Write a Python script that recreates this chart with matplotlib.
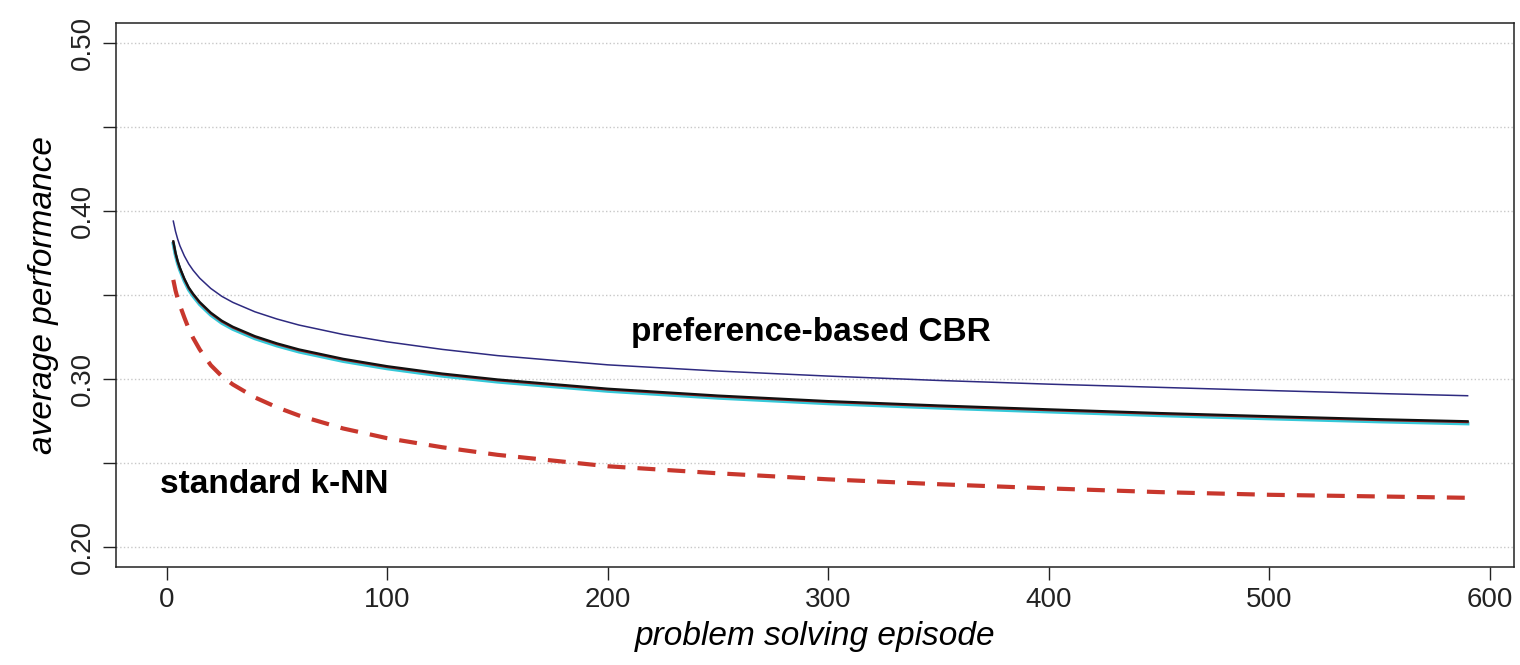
import numpy as np
import matplotlib.pyplot as plt

plt.rcParams['font.family'] = ['Liberation Sans', 'DejaVu Sans']

# episodes at which the curves were read
episodes = [3, 4, 5, 6, 8, 10, 12, 15, 20, 25, 30, 40, 50, 60, 80, 100, 125, 150,
            200, 250, 300, 350, 400, 450, 500, 550, 590]

# preference-based CBR variants
pref_top = [0.394, 0.3879, 0.3832, 0.3793, 0.3733, 0.3685, 0.3647, 0.3600, 0.3539,
            0.3492, 0.3456, 0.3400, 0.3357, 0.3321, 0.3265, 0.3221, 0.3176, 0.3139,
            0.3084, 0.3047, 0.3017, 0.2991, 0.2969, 0.2950, 0.2931, 0.2913, 0.2900]
pref_black = [0.382, 0.3752, 0.3702, 0.3663, 0.3598, 0.3545, 0.3507, 0.3458, 0.3395,
              0.3347, 0.3311, 0.3255, 0.3212, 0.3176, 0.3120, 0.3076, 0.3032, 0.2997,
              0.2942, 0.2901, 0.2868, 0.2842, 0.2819, 0.2797, 0.2778, 0.2760, 0.2748]
pref_red = [0.3815, 0.3747, 0.3697, 0.3658, 0.3593, 0.3540, 0.3502, 0.3453, 0.3390,
            0.3342, 0.3306, 0.3250, 0.3207, 0.3171, 0.3115, 0.3071, 0.3027, 0.2992,
            0.2937, 0.2896, 0.2863, 0.2837, 0.2814, 0.2792, 0.2773, 0.2755, 0.2743]
pref_cyan = [0.3806, 0.3738, 0.3688, 0.3649, 0.3584, 0.3531, 0.3493, 0.3444, 0.3381,
             0.3333, 0.3297, 0.3241, 0.3198, 0.3162, 0.3106, 0.3062, 0.3018, 0.2983,
             0.2928, 0.2887, 0.2854, 0.2828, 0.2805, 0.2783, 0.2764, 0.2746, 0.2734]

# standard k-NN
knn = [0.359, 0.3527, 0.3478, 0.3438, 0.3366, 0.3299, 0.3244, 0.3175, 0.3082,
       0.3016, 0.2967, 0.2890, 0.2831, 0.2782, 0.2705, 0.2647, 0.2593, 0.2548,
       0.2480, 0.2438, 0.2402, 0.2373, 0.2348, 0.2326, 0.2310, 0.2300, 0.2292]

fig = plt.figure(figsize=(15.2, 6.65), dpi=100)
ax = fig.add_axes([0.0763, 0.1474, 0.9197, 0.818])

ax.plot(episodes, pref_cyan, color='#35c8d8', lw=2.6)
ax.plot(episodes, pref_red, color='#8b1a1a', lw=1.6)
ax.plot(episodes, pref_black, color='#111111', lw=1.6)
ax.plot(episodes, pref_top, color='#2e2a80', lw=1.1)
ax.plot(episodes, knn, color='#c8372d', lw=3, dashes=(4.3, 2.9))

ax.set_xlim(-23, 611)
ax.set_ylim(0.188, 0.512)

ax.set_xticks([0, 100, 200, 300, 400, 500, 600])
ax.set_yticks([0.20, 0.30, 0.40, 0.50])
ax.set_yticklabels(['0.20', '0.30', '0.40', '0.50'], rotation=90, va='center')
ax.set_yticks([0.25, 0.35, 0.45], minor=True)
ax.tick_params(axis='both', which='both', length=9.4, width=1, labelsize=20,
               colors='#222222')
ax.tick_params(axis='x', pad=5)
ax.tick_params(axis='y', pad=5)

ax.grid(axis='y', which='both', linestyle=':', color='#c8c8c8', lw=1)
ax.set_axisbelow(True)

for s in ax.spines.values():
    s.set_linewidth(1.1)
    s.set_color('#222222')

ax.set_xlabel('problem solving episode', fontsize=24, style='italic', labelpad=6)
ax.set_ylabel('average performance', fontsize=24, style='italic', labelpad=8)

ax.text(292, 0.3226, 'preference-based CBR', fontsize=24, fontweight='bold',
        ha='center', va='baseline')
ax.text(-3, 0.2321, 'standard k-NN', fontsize=24, fontweight='bold',
        ha='left', va='baseline')

fig.savefig('out.png', dpi=100)
